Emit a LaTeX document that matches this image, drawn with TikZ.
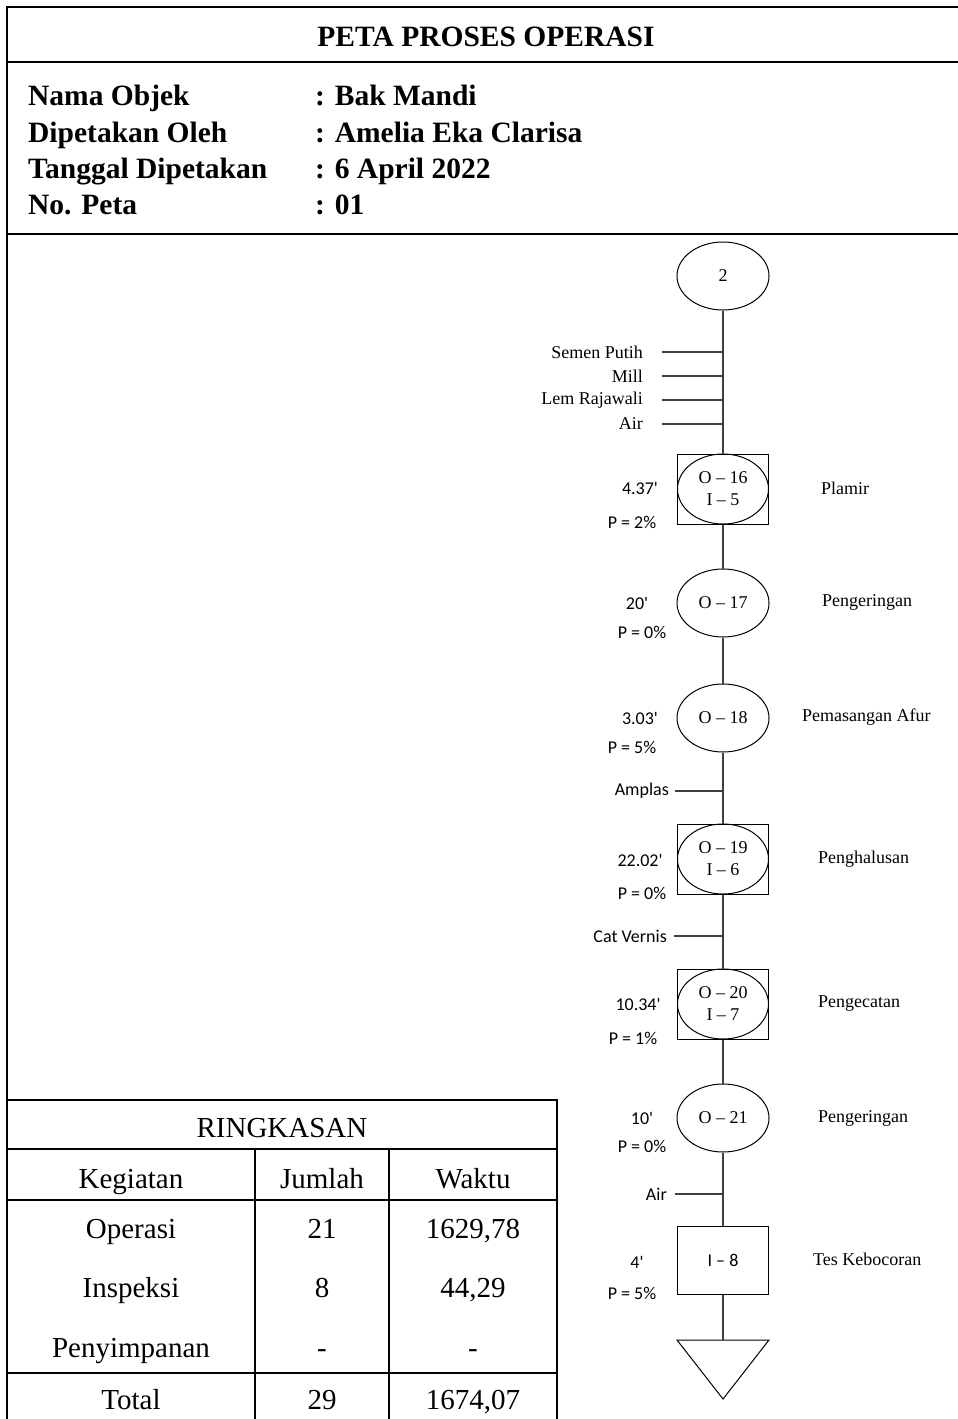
\documentclass[tikz,border=0pt]{standalone}
\usepackage{fontspec}
\setmainfont{Liberation Serif}
\newfontfamily\calfont{Carlito}
\usetikzlibrary{shapes.geometric}
\begin{document}
\begin{tikzpicture}[x=1pt,y=-1pt,
  frame/.style={line width=2.4pt},
  rule/.style={line width=2pt},
  flow/.style={line width=1.1pt, black!75},
  shapeline/.style={line width=1pt, black},
  opnode/.style={shapeline, draw, ellipse, minimum width=92pt, minimum height=68pt,
    inner sep=0pt, font=\fontsize{18}{22}\selectfont},
  combo/.style={shapeline, draw, rectangle, minimum width=91pt, minimum height=70pt,
    inner sep=0pt, align=center, font=\fontsize{18}{22}\selectfont},
  inspect/.style={shapeline, draw, rectangle, minimum width=91pt, minimum height=68pt,
    inner sep=0pt, font=\calfont\fontsize{18}{22}\selectfont},
  serifsm/.style={inner sep=0pt, font=\fontsize{18}{22}\selectfont},
  calsm/.style={inner sep=0pt, font=\calfont\fontsize{18}{22}\selectfont},
  head/.style={anchor=base west, inner sep=0pt, font=\fontsize{29.5}{34}\selectfont\bfseries},
  cell/.style={anchor=base, inner sep=0pt, font=\fontsize{29}{34}\selectfont}
]
\fill[white] (0,0) rectangle (958,1419);
\useasboundingbox (0,0) rectangle (958,1419);

% ---- page frame and header ----
\draw[frame] (958,7) -- (7,7) -- (7,1419);
\draw[frame] (7,62) -- (958,62);
\draw[frame] (7,234) -- (958,234);
\node[inner sep=0pt, font=\fontsize{29.5}{34}\selectfont\bfseries] (title) at (486,37) {PETA PROSES OPERASI};

\node[head] (k1) at (28,105) {Nama Objek};
\node[head] (k2) at (28,142) {Dipetakan Oleh};
\node[head] (k3) at (28,178) {Tanggal Dipetakan};
\node[head] (k4) at (28,214) {No. Peta};
\node[head] (v1) at (315,105) {: Bak Mandi};
\node[head] (v2) at (315,142) {: Amelia Eka Clarisa};
\node[head] (v3) at (315,178) {: 6 April 2022};
\node[head] (v4) at (315,214) {: 01};

% ---- process chart ----
\node[opnode] (start) at (723,276) {2};
\node[combo] (o16) at (723,489) {O – 16\\I – 5};
\draw[shapeline] (o16.center) ellipse [x radius=45.5pt, y radius=35pt];
\node[opnode] (o17) at (723,603) {O – 17};
\node[opnode] (o18) at (723,718) {O – 18};
\node[combo] (o19) at (723,859) {O – 19\\I – 6};
\draw[shapeline] (o19.center) ellipse [x radius=45.5pt, y radius=35pt];
\node[combo] (o20) at (723,1004) {O – 20\\I – 7};
\draw[shapeline] (o20.center) ellipse [x radius=45.5pt, y radius=35pt];
\node[opnode] (o21) at (723,1118) {O – 21};
\node[inspect] (i8) at (723,1260) {I – 8};
\coordinate (store) at (723,1340);
\draw[shapeline] (store) -- ++(-46,0) -- (723,1399) -- (769,1340) -- cycle;

\draw[flow] (start) -- (o16);
\draw[flow] (o16) -- (o17);
\draw[flow] (o17) -- (o18);
\draw[flow] (o18) -- (o19);
\draw[flow] (o19) -- (o20);
\draw[flow] (o20) -- (o21);
\draw[flow] (o21) -- (i8);
\draw[flow] (i8) -- (store);

% materials entering the line
\node[serifsm, anchor=east] (m1) at (643,352) {Semen Putih};
\node[serifsm, anchor=east] (m2) at (643,376) {Mill};
\node[serifsm, anchor=east] (m3) at (643,400) {Lem Rajawali};
\node[serifsm, anchor=east] (m4) at (643,424) {Air};
\node[calsm, anchor=east] (m5) at (669,791) {Amplas};
\node[calsm, anchor=east] (m6) at (667,936) {Cat Vernis};
\node[calsm, anchor=east] (m7) at (667,1194) {Air};
\foreach \m/\g in {m1/19,m2/19,m3/19,m4/19,m5/6,m6/7,m7/8}
  \draw[flow] ([xshift=\g pt]\m.east) -- (\m.east -| start.center);

% times and allowances
\node[calsm] (t16) at (640,488) {4.37'};
\node[calsm] (p16) at (632,522) {P = 2\%};
\node[calsm] (t17) at (637,603) {20'};
\node[calsm] (p17) at (642,632) {P = 0\%};
\node[calsm] (t18) at (640,718) {3.03'};
\node[calsm] (p18) at (632,747) {P = 5\%};
\node[calsm] (t19) at (640,860) {22.02'};
\node[calsm] (p19) at (642,893) {P = 0\%};
\node[calsm] (t20) at (638,1004) {10.34'};
\node[calsm] (p20) at (633,1038) {P = 1\%};
\node[calsm] (t21) at (642,1118) {10'};
\node[calsm] (p21) at (642,1146) {P = 0\%};
\node[calsm] (t8) at (637,1262) {4'};
\node[calsm] (p8) at (632,1293) {P = 5\%};

% activity names
\node[serifsm, anchor=west] (a16) at (821,488) {Plamir};
\node[serifsm, anchor=west] (a17) at (822,602) {Pengeringan};
\node[serifsm, anchor=west] (a18) at (802,717) {Pemasangan Afur};
\node[serifsm, anchor=west] (a19) at (818,859) {Penghalusan};
\node[serifsm, anchor=west] (a20) at (818,1004) {Pengecatan};
\node[serifsm, anchor=west] (a21) at (818,1118) {Pengeringan};
\node[serifsm, anchor=west] (a8) at (813,1259) {Tes Kebocoran};

% ---- summary table ----
\draw[rule] (7,1100) -- (557,1100) -- (557,1419);
\draw[rule] (7,1149) -- (557,1149);
\draw[rule] (7,1200) -- (557,1200);
\draw[rule] (7,1373) -- (557,1373);
\draw[rule] (255,1149) -- (255,1419);
\draw[rule] (389,1149) -- (389,1419);

\node[cell] (sum) at (282,1137) {RINGKASAN};
\node[cell] (h1) at (131,1188) {Kegiatan};
\node[cell] (h2) at (322,1188) {Jumlah};
\node[cell] (h3) at (473,1188) {Waktu};
\node[cell] (r1a) at (131,1238) {Operasi};
\node[cell] (r1b) at (322,1238) {21};
\node[cell] (r1c) at (473,1238) {1629,78};
\node[cell] (r2a) at (131,1297) {Inspeksi};
\node[cell] (r2b) at (322,1297) {8};
\node[cell] (r2c) at (473,1297) {44,29};
\node[cell] (r3a) at (131,1357) {Penyimpanan};
\node[cell] (r3b) at (322,1357) {-};
\node[cell] (r3c) at (473,1357) {-};
\node[cell] (r4a) at (131,1409) {Total};
\node[cell] (r4b) at (322,1409) {29};
\node[cell] (r4c) at (473,1409) {1674,07};
\end{tikzpicture}
\end{document}
